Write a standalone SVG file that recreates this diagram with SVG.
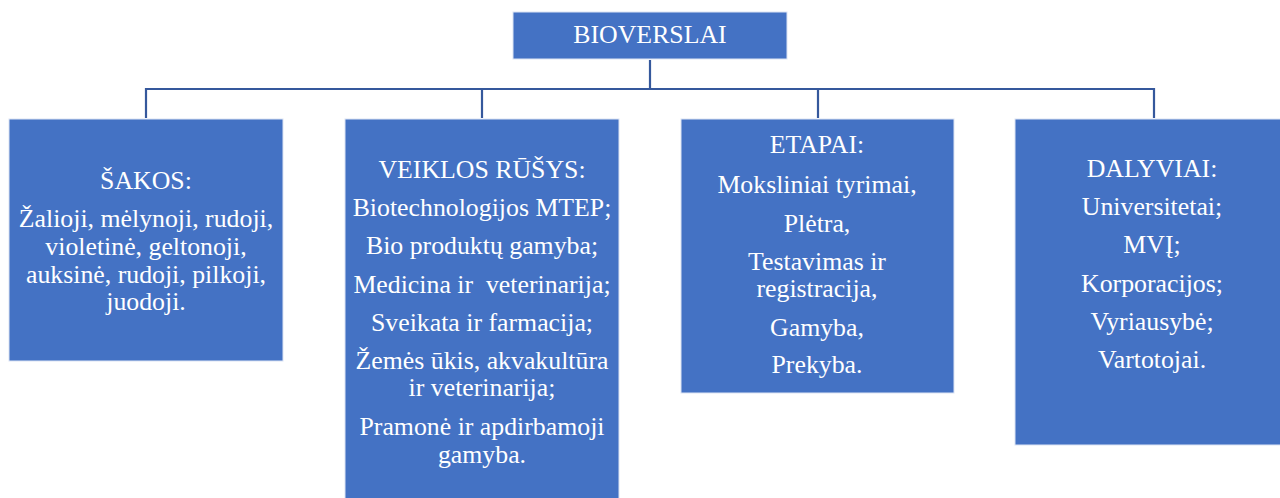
<svg xmlns="http://www.w3.org/2000/svg" width="1280" height="498" viewBox="0 0 1280 498">
<style>
.box{fill:#4472C4;stroke:#DCE4F4;stroke-width:1}
.t{font-family:"Liberation Serif","Times New Roman",serif;font-size:25.8px;fill:#FFFFFF;text-anchor:middle;white-space:pre}
.c{fill:none;stroke:#35589C;stroke-width:2.2}
</style>
<g id="connectors">
<path class="c" d="M650,60 V89 M146,89 H1154 M146,88 V118 M482,88 V118 M818,88 V118 M1154,88 V118"/>
</g>
<g id="node-bioverslai">
<rect class="box" x="513" y="12" width="274" height="47"/>
<text class="t" x="650" y="42.5">BIOVERSLAI</text>
</g>
<g id="node-sakos">
<rect class="box" x="9" y="119" width="274" height="242"/>
<text class="t" x="146" y="189">ŠAKOS:</text>
<text class="t" x="146" y="227">Žalioji, mėlynoji, rudoji,</text>
<text class="t" x="146" y="255">violetinė, geltonoji,</text>
<text class="t" x="146" y="283">auksinė, rudoji, pilkoji,</text>
<text class="t" x="146" y="310">juodoji.</text>
</g>
<g id="node-veiklos">
<rect class="box" x="345" y="119" width="274" height="385"/>
<text class="t" x="482" y="178">VEIKLOS RŪŠYS:</text>
<text class="t" x="482" y="216">Biotechnologijos MTEP;</text>
<text class="t" x="482" y="254">Bio produktų gamyba;</text>
<text class="t" x="482" y="293">Medicina ir  veterinarija;</text>
<text class="t" x="482" y="331">Sveikata ir farmacija;</text>
<text class="t" x="482" y="369">Žemės ūkis, akvakultūra</text>
<text class="t" x="482" y="396">ir veterinarija;</text>
<text class="t" x="482" y="435">Pramonė ir apdirbamoji</text>
<text class="t" x="482" y="463">gamyba.</text>
</g>
<g id="node-etapai">
<rect class="box" x="681" y="119" width="273" height="274"/>
<text class="t" x="817" y="153">ETAPAI:</text>
<text class="t" x="817" y="193">Moksliniai tyrimai,</text>
<text class="t" x="817" y="232">Plėtra,</text>
<text class="t" x="817" y="270">Testavimas ir</text>
<text class="t" x="817" y="297">registracija,</text>
<text class="t" x="817" y="336">Gamyba,</text>
<text class="t" x="817" y="373">Prekyba.</text>
</g>
<g id="node-dalyviai">
<rect class="box" x="1015" y="119" width="274" height="326"/>
<text class="t" x="1152" y="177">DALYVIAI:</text>
<text class="t" x="1152" y="215">Universitetai;</text>
<text class="t" x="1152" y="253">MVĮ;</text>
<text class="t" x="1152" y="292">Korporacijos;</text>
<text class="t" x="1152" y="330">Vyriausybė;</text>
<text class="t" x="1152" y="368">Vartotojai.</text>
</g>
</svg>
